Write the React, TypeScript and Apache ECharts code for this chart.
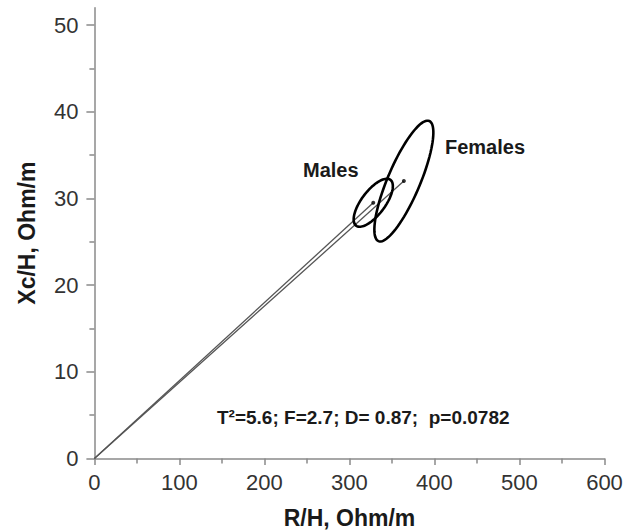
import React, { useEffect, useRef } from "react";
import * as echarts from "echarts";

// Groups and their centroids (R/H, Xc/H in Ohm/m)
const groups = ["Males", "Females"];
const centroidR = [328, 364];
const centroidXc = [29.5, 32];
// Confidence ellipses: conjugate semi-axis vectors in data units
const axisUR = [20.2, 29.9];
const axisUXc = [2.64, 6.93];
const axisVR = [-11.1, -17.6];
const axisVXc = [0.82, 0.73];

const xTickValues = [0, 100, 200, 300, 400, 500, 600];
const yTickValues = [0, 10, 20, 30, 40, 50];
const yMinorTickValues = [5, 15, 25, 35, 45];
const statsText = "T\u00B2=5.6; F=2.7; D= 0.87;  p=0.0782";

const FONT = "'Liberation Sans', Arial, Helvetica, sans-serif";
const AXIS_GRAY = "#8a8a8a";
const TEXT_DARK = "#1a1a1a";

export default function App() {
  const ref = useRef<HTMLDivElement>(null);

  useEffect(() => {
    if (!ref.current) return;
    const chart = echarts.init(ref.current, undefined, { renderer: "svg" });

    const lineSeries = groups.map((g, i) => ({
      name: g,
      type: "line",
      data: [
        [0, 0],
        [centroidR[i], centroidXc[i]],
      ],
      symbol: "none",
      lineStyle: { color: "#555", width: 1.3 },
      z: 2,
    }));

    const ellipseData = groups.map((g, i) => [
      centroidR[i],
      centroidXc[i],
      axisUR[i],
      axisUXc[i],
      axisVR[i],
      axisVXc[i],
    ]);

    const option: any = {
      animation: false,
      backgroundColor: "#fff",
      grid: { left: 94.4, right: 28.5, top: 7.7, bottom: 73.5, containLabel: false, outerBoundsMode: "none" },
      xAxis: {
        type: "value",
        min: 0,
        max: 600,
        interval: 100,
        name: "R/H, Ohm/m",
        nameLocation: "middle",
        nameGap: 48,
        nameTextStyle: { fontFamily: FONT, fontSize: 23, fontWeight: "bold", color: TEXT_DARK },
        axisLine: { show: true, lineStyle: { color: AXIS_GRAY, width: 1.5 } },
        axisTick: { show: true, length: 6.5, lineStyle: { color: AXIS_GRAY, width: 1.5 } },
        minorTick: { show: true, splitNumber: 2, length: 5, lineStyle: { color: AXIS_GRAY, width: 1.5 } },
        axisLabel: {
          fontFamily: FONT,
          fontSize: 22,
          color: "#333",
          margin: 13,
          customValues: xTickValues,
        },
        splitLine: { show: false },
      },
      yAxis: [
        {
          type: "value",
          min: 0,
          max: 52,
          interval: 10,
          name: "Xc/H, Ohm/m",
          nameLocation: "middle",
          nameGap: 56,
          nameTextStyle: { fontFamily: FONT, fontSize: 23, fontWeight: "bold", color: TEXT_DARK },
          axisLine: { show: true, lineStyle: { color: AXIS_GRAY, width: 1.5 } },
          axisTick: { show: true, length: 8, customValues: yTickValues, lineStyle: { color: AXIS_GRAY, width: 1.5 } },
          axisLabel: {
            fontFamily: FONT,
            fontSize: 22,
            color: "#333",
            margin: 16,
            customValues: yTickValues,
          },
          splitLine: { show: false },
        },
        {
          type: "value",
          min: 0,
          max: 52,
          position: "left",
          axisLine: { show: false },
          axisTick: { show: true, length: 5, customValues: yMinorTickValues, lineStyle: { color: AXIS_GRAY, width: 1.5 } },
          axisLabel: { show: false },
          splitLine: { show: false },
        },
      ],
      series: [
        ...lineSeries,
        {
          name: "ellipses",
          type: "custom",
          data: ellipseData,
          z: 3,
          renderItem: (params: any, api: any) => {
            const cx = api.value(0);
            const cy = api.value(1);
            const ux = api.value(2);
            const uy = api.value(3);
            const vx = api.value(4);
            const vy = api.value(5);
            const pts: number[][] = [];
            const n = 90;
            for (let k = 0; k <= n; k++) {
              const t = (2 * Math.PI * k) / n;
              pts.push(
                api.coord([cx + ux * Math.cos(t) + vx * Math.sin(t), cy + uy * Math.cos(t) + vy * Math.sin(t)])
              );
            }
            return {
              type: "polygon",
              shape: { points: pts },
              style: { fill: "none", stroke: "#000", lineWidth: 2.6 },
            };
          },
        },
        {
          name: "centroids",
          type: "scatter",
          data: groups.map((g, i) => [centroidR[i], centroidXc[i]]),
          symbolSize: 4,
          itemStyle: { color: "#000" },
          z: 4,
        },
      ],
      graphic: [
        {
          type: "text",
          x: 303,
          y: 170,
          style: { text: "Males", fontFamily: FONT, fontSize: 20, fontWeight: "bold", fill: TEXT_DARK, textVerticalAlign: "middle" },
        },
        {
          type: "text",
          x: 445,
          y: 147,
          style: { text: "Females", fontFamily: FONT, fontSize: 20, fontWeight: "bold", fill: TEXT_DARK, textVerticalAlign: "middle" },
        },
        {
          type: "text",
          x: 217,
          y: 417,
          style: { text: statsText, fontFamily: FONT, fontSize: 19, fontWeight: "bold", fill: TEXT_DARK, textVerticalAlign: "middle" },
        },
      ],
    };

    chart.setOption(option);
    return () => chart.dispose();
  }, []);

  return (
    <div
      ref={ref}
      style={{ position: "fixed", left: 0, top: 0, width: 633, height: 532, background: "#fff" }}
    />
  );
}
